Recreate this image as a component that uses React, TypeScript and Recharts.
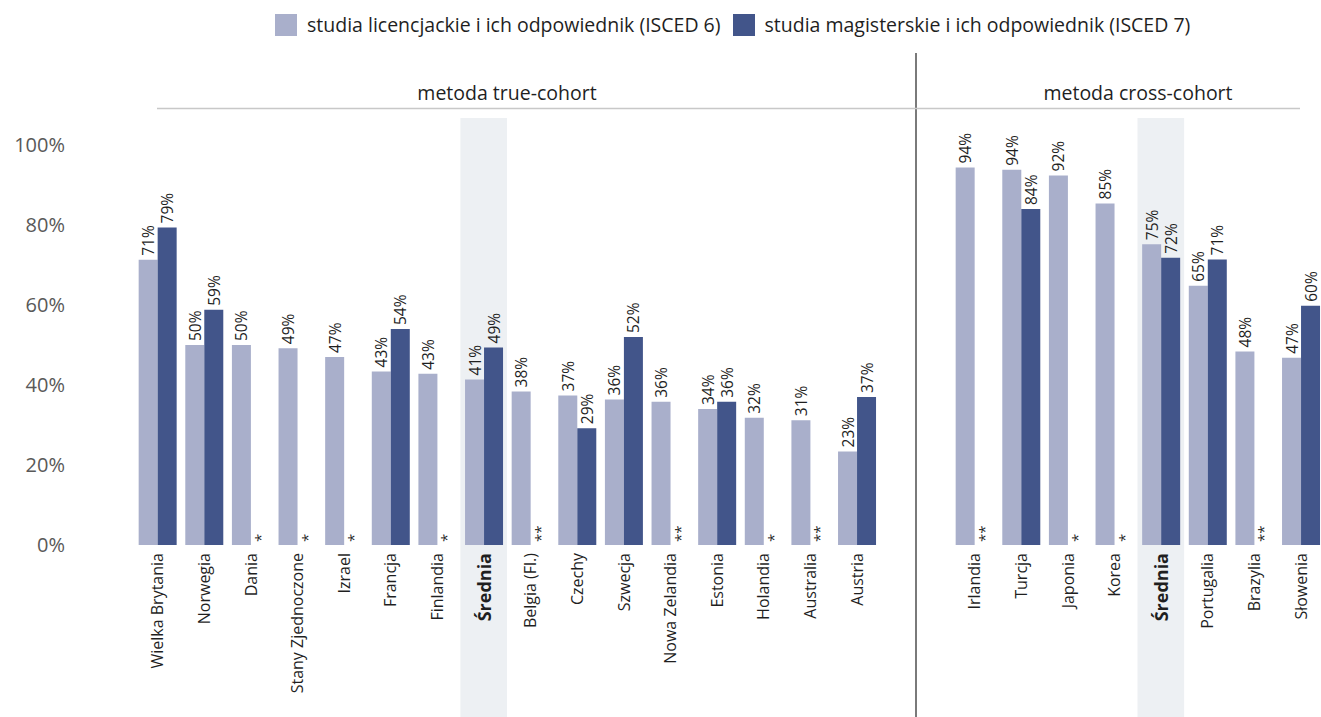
import { BarChart, Bar, XAxis, YAxis, LabelList, ReferenceArea } from 'recharts';

// true-cohort group
const trueCohortCountries = [
    'Wielka Brytania', 'Norwegia', 'Dania', 'Stany Zjednoczone', 'Izrael', 'Francja', 'Finlandia', 'Średnia',
    'Belgia (Fl.)', 'Czechy', 'Szwecja', 'Nowa Zelandia', 'Estonia', 'Holandia', 'Australia', 'Austria',
];
const trueCohortIsced6 = [71.3, 50.0, 50.0, 49.2, 47.0, 43.4, 42.8, 41.4, 38.4, 37.4, 36.4, 35.8, 34.0, 31.8, 31.2, 23.4];
const trueCohortIsced7 = [79.4, 58.8, null, null, null, 54.0, null, 49.4, null, 29.2, 52.0, null, 35.8, null, null, 37.0];
const trueCohortNotes = ['', '', '*', '*', '*', '', '*', '', '**', '', '', '**', '', '*', '**', ''];

// cross-cohort group
const crossCohortCountries = ['Irlandia', 'Turcja', 'Japonia', 'Korea', 'Średnia', 'Portugalia', 'Brazylia', 'Słowenia'];
const crossCohortIsced6 = [94.4, 93.8, 92.4, 85.4, 75.2, 64.8, 48.4, 46.8];
const crossCohortIsced7 = [null, 84.0, null, null, 71.8, 71.4, null, 59.8];
const crossCohortNotes = ['**', '', '*', '*', '', '', '**', ''];

const yTicks = [0, 20, 40, 60, 80, 100];

const seriesNames = ['studia licencjackie i ich odpowiednik (ISCED 6)', 'studia magisterskie i ich odpowiednik (ISCED 7)'];
const groupTitles = ['metoda true-cohort', 'metoda cross-cohort'];

const FONT = '"Open Sans", sans-serif';
const LIGHT = '#a9afcb';
const DARK = '#42558a';
const SHADE = '#edf0f3';
const TEXT = '#1f1f1f';

const W = 1321;
const H = 717;

function buildRows(countries: string[], a: number[], b: (number | null)[], notes: string[]) {
    return countries.map((country, i) => ({ country, isced6: a[i], isced7: b[i], note: notes[i] }));
}

const trueCohortData = buildRows(trueCohortCountries, trueCohortIsced6, trueCohortIsced7, trueCohortNotes);
const crossCohortData = buildRows(crossCohortCountries, crossCohortIsced6, crossCohortIsced7, crossCohortNotes);

const ValueLabel = (props: any) => {
    const vb = props.viewBox ?? props;
    const { value } = props;
    if (value == null || value === '') return null;
    const cx = vb.x + vb.width / 2;
    const ty = vb.y - 4;
    return (
        <text x={cx} y={ty} transform={`rotate(-90, ${cx}, ${ty})`} textAnchor="start" dominantBaseline="central"
            fontSize={15.5} fill={TEXT} fontFamily={FONT}>
            {Math.round(value)}%
        </text>
    );
};

// category label plus the "*" / "**" marker standing where the missing ISCED 7 bar would be
function makeCategoryTick(notes: string[]) {
    return (props: any) => {
        const { x, y, payload, index } = props;
        const bold = payload.value === 'Średnia';
        const half = payload.offset || 23.3;
        const note = notes[index ?? payload.index];
        const nx = x + half * 0.4;
        return (
            <g>
                {note ? (
                    <text x={nx} y={y - 3} transform={`rotate(-90, ${nx}, ${y - 3})`} textAnchor="start"
                        dominantBaseline="central" fontSize={15} fill={TEXT} fontFamily={FONT}>
                        {note}
                    </text>
                ) : null}
                <g transform={`translate(${x},${y + 8})`}>
                    <text transform="rotate(-90)" textAnchor="end" dominantBaseline="central"
                        fontSize={bold ? 18 : 16} fontWeight={bold ? 700 : 400} fill={TEXT} fontFamily={FONT}>
                        {payload.value}
                    </text>
                </g>
            </g>
        );
    };
}

function GroupChart({ data, notes, width, showY }: { data: any[]; notes: string[]; width: number; showY: boolean }) {
    const Tick = makeCategoryTick(notes);
    return (
        <BarChart width={width} height={H} data={data} margin={{ top: 145, right: 0, left: 0, bottom: 0 }}
            barCategoryGap="10%" barGap={0}>
            <ReferenceArea x1="Średnia" x2="Średnia" y1={-43} y2={106.75} ifOverflow="visible"
                fill={SHADE} fillOpacity={1} stroke="none" />
            <XAxis dataKey="country" height={172} interval={0} axisLine={false} tickLine={false}
                tickSize={0} tickMargin={0} tick={(p: any) => <Tick {...p} />} />
            {showY ? (
                <YAxis width={134} domain={[0, 100]} ticks={yTicks} axisLine={false} tickLine={false}
                    tickSize={0} tickMargin={69} tickFormatter={(v: number) => `${v}%`}
                    tick={{ fontSize: 20, fill: '#595959', fontFamily: FONT }} />
            ) : (
                <YAxis hide domain={[0, 100]} ticks={yTicks} />
            )}
            <Bar dataKey="isced6" fill={LIGHT} isAnimationActive={false}>
                <LabelList dataKey="isced6" content={<ValueLabel />} />
            </Bar>
            <Bar dataKey="isced7" fill={DARK} isAnimationActive={false}>
                <LabelList dataKey="isced7" content={<ValueLabel />} />
            </Bar>
        </BarChart>
    );
}

export default function App() {
    return (
        <div style={{ position: 'absolute', left: 0, top: 0, width: W, height: H, overflow: 'hidden', background: '#fff', fontFamily: FONT }}>
            <svg width={W} height={H} style={{ position: 'absolute', left: 0, top: 0 }}>
                <line x1={916} y1={53} x2={916} y2={H} stroke="#7a7a7a" strokeWidth={2} />
                <line x1={157} y1={108.5} x2={1300} y2={108.5} stroke="#c8c8c8" strokeWidth={1.5} />
                <text x={507} y={92} textAnchor="middle" dominantBaseline="central" fontSize={19.5} fill={TEXT} fontFamily={FONT}>
                    {groupTitles[0]}
                </text>
                <text x={1138} y={92} textAnchor="middle" dominantBaseline="central" fontSize={19.5} fill={TEXT} fontFamily={FONT}>
                    {groupTitles[1]}
                </text>
            </svg>

            <div style={{ position: 'absolute', left: 275, top: 11, display: 'flex', alignItems: 'center', fontSize: 19.5, color: TEXT, whiteSpace: 'nowrap' }}>
                <span style={{ width: 22, height: 22, background: LIGHT, display: 'inline-block', marginRight: 10 }} />
                <span>{seriesNames[0]}</span>
                <span style={{ width: 22, height: 22, background: DARK, display: 'inline-block', marginLeft: 12, marginRight: 10 }} />
                <span>{seriesNames[1]}</span>
            </div>

            <div style={{ position: 'absolute', left: 0, top: 0 }}>
                <GroupChart data={trueCohortData} notes={trueCohortNotes} width={880} showY />
            </div>
            <div style={{ position: 'absolute', left: 951, top: 0 }}>
                <GroupChart data={crossCohortData} notes={crossCohortNotes} width={373} showY={false} />
            </div>
        </div>
    );
}
